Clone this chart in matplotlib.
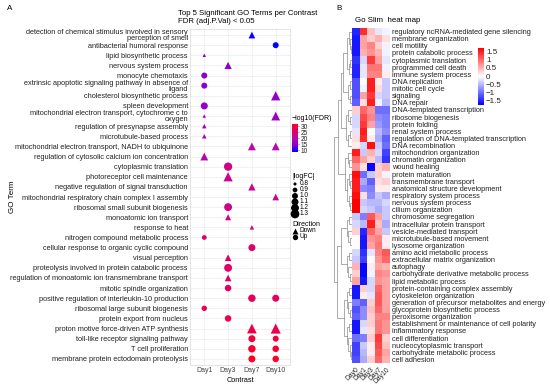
"""GO enrichment dot plot (A) and GO Slim clustered heat map (B)."""

import matplotlib

matplotlib.use("Agg")
import matplotlib.pyplot as plt
import numpy as np
from matplotlib.colors import LinearSegmentedColormap, Normalize

plt.rcParams["font.family"] = ["Liberation Sans", "DejaVu Sans"]

# ---------------------------------------------------------------- panel A data
DAYS_A = ["Day1", "Day3", "Day7", "Day10"]
TERMS_A = [
    "detection of chemical stimulus involved in sensory\nperception of smell",
    "antibacterial humoral response",
    "lipid biosynthetic process",
    "nervous system process",
    "monocyte chemotaxis",
    "extrinsic apoptotic signaling pathway in absence of\nligand",
    "cholesterol biosynthetic process",
    "spleen development",
    "mitochondrial electron transport, cytochrome c to\noxygen",
    "regulation of presynapse assembly",
    "microtubule-based process",
    "mitochondrial electron transport, NADH to ubiquinone",
    "regulation of cytosolic calcium ion concentration",
    "cytoplasmic translation",
    "photoreceptor cell maintenance",
    "negative regulation of signal transduction",
    "mitochondrial respiratory chain complex I assembly",
    "ribosomal small subunit biogenesis",
    "monoatomic ion transport",
    "response to heat",
    "nitrogen compound metabolic process",
    "cellular response to organic cyclic compound",
    "visual perception",
    "proteolysis involved in protein catabolic process",
    "regulation of monoatomic ion transmembrane transport",
    "mitotic spindle organization",
    "positive regulation of interleukin-10 production",
    "ribosomal large subunit biogenesis",
    "protein export from nucleus",
    "proton motive force-driven ATP synthesis",
    "toll-like receptor signaling pathway",
    "T cell proliferation",
    "membrane protein ectodomain proteolysis",
]
# one entry per point: term index, contrast, direction, -log10(FDR), |logFC|
PT_TERM = [0, 1, 2, 3, 4, 5, 6, 7, 8, 8, 9, 10, 11, 11, 12, 13, 14, 15, 16,
           17, 18, 19, 20, 21, 22, 23, 24, 25, 26, 26, 27, 28, 29, 29, 30, 30,
           31, 31, 32, 32]
PT_DAY = ["Day7", "Day10", "Day1", "Day3", "Day1", "Day1", "Day10", "Day1",
          "Day1", "Day10", "Day1", "Day1", "Day7", "Day10", "Day1", "Day3",
          "Day3", "Day7", "Day10", "Day3", "Day3", "Day7", "Day1", "Day7",
          "Day3", "Day3", "Day3", "Day3", "Day7", "Day10", "Day1", "Day3",
          "Day7", "Day10", "Day7", "Day10", "Day7", "Day10", "Day7", "Day10"]
PT_DIR = ["Down", "Up", "Down", "Down", "Up", "Up", "Down", "Up",
          "Down", "Down", "Down", "Down", "Down", "Down", "Down", "Up",
          "Down", "Down", "Down", "Up", "Down", "Down", "Up", "Up",
          "Down", "Up", "Down", "Up", "Up", "Up", "Up", "Up",
          "Down", "Down", "Up", "Up", "Up", "Up", "Up", "Up"]
PT_FDR = [8.8, 8.6, 14, 14.5, 14.5, 14.5, 15.5, 15.5,
          16.5, 16.5, 17.5, 17.5, 21, 20, 19, 23.5,
          22, 22, 22, 23.5, 23, 25, 25.5, 26,
          26, 26.5, 26.5, 27, 27.5, 27.5, 28, 28.5,
          29, 29, 30, 30, 31, 31, 32, 32]
PT_LFC = [1.0, 1.0, 0.8, 1.05, 1.0, 1.0, 1.25, 1.1,
          0.8, 1.2, 0.85, 0.85, 1.1, 1.1, 1.1, 1.25,
          1.25, 1.05, 1.0, 1.2, 0.95, 0.85, 0.9, 1.1,
          1.0, 1.2, 1.0, 1.05, 1.15, 1.1, 0.95, 1.05,
          1.3, 1.35, 1.1, 1.0, 1.15, 1.05, 1.1, 1.05]
FDR_TICKS = [10, 15, 20, 25, 30]
LFC_BREAKS = [0.8, 0.9, 1.0, 1.1, 1.2, 1.3]

# ---------------------------------------------------------------- panel B data
DAYS_B = ["Day0", "Day1", "Day3", "Day7", "Day10"]
TERMS_B = [
    "regulatory ncRNA-mediated gene silencing", "membrane organization",
    "cell motility", "protein catabolic process", "cytoplasmic translation",
    "programmed cell death", "immune system process", "DNA replication",
    "mitotic cell cycle", "signaling", "DNA repair",
    "DNA-templated transcription", "ribosome biogenesis", "protein folding",
    "renal system process", "regulation of DNA-templated transcription",
    "DNA recombination", "mitochondrion organization",
    "chromatin organization", "wound healing", "protein maturation",
    "transmembrane transport", "anatomical structure development",
    "respiratory system process", "nervous system process",
    "cilium organization", "chromosome segregation",
    "intracellular protein transport", "vesicle-mediated transport",
    "microtubule-based movement", "lysosome organization",
    "amino acid metabolic process", "extracellular matrix organization",
    "autophagy", "carbohydrate derivative metabolic process",
    "lipid metabolic process", "protein-containing complex assembly",
    "cytoskeleton organization",
    "generation of precursor metabolites and energy",
    "glycoprotein biosynthetic process", "peroxisome organization",
    "establishment or maintenance of cell polarity", "inflammatory response",
    "cell differentiation", "nucleocytoplasmic transport",
    "carbohydrate metabolic process", "cell adhesion",
]
ZSCORE = [
    [-1.5, 1.4, 0.4, -0.2, -0.1], [-1.6, 0.6, 0.3, 0.5, 0.2],
    [-1.6, 0.6, 0.8, 0.3, -0.1], [-1.6, 0.5, 0.7, 0.5, -0.1],
    [-1.4, -0.3, 1.3, 0.6, -0.2], [-1.5, -0.2, 0.9, 0.9, -0.1],
    [-1.5, -0.2, 0.8, 0.8, 0.1], [-1.2, 0.0, 1.5, 0.1, -0.4],
    [-1.2, -0.1, 1.5, 0.2, -0.4], [-1.2, 0.6, 1.3, -0.3, -0.4],
    [-1.1, 0.2, 1.5, -0.1, -0.5], [0.3, 1.0, 0.7, -1.0, -1.0],
    [-0.3, 1.2, 0.8, -0.8, -0.9], [-0.3, 1.3, 0.6, -0.7, -0.9],
    [-0.2, 1.5, 0.0, -0.5, -0.8], [0.2, 1.4, 0.1, -0.6, -1.1],
    [0.1, -0.3, 1.6, -0.4, -1.0], [1.5, -0.4, 0.5, -0.3, -1.3],
    [1.0, 0.6, 0.3, -0.5, -1.4], [0.7, 0.2, -1.7, 0.3, 0.5],
    [1.6, -1.0, -0.4, 0.3, -0.1], [1.5, -0.6, -1.1, 0.2, 0.3],
    [1.5, -0.8, -0.9, 0.1, 0.1], [1.6, 0.2, -0.8, -0.4, -0.6],
    [1.7, -0.4, -0.5, -0.5, -0.3], [1.7, -0.3, -0.4, -0.6, -0.4],
    [-0.4, -0.9, 1.1, 0.6, -0.4], [-0.3, -0.5, 1.5, 0.4, -0.6],
    [0.3, -1.5, 1.0, 0.6, -0.4], [0.0, -1.6, 0.7, 0.8, 0.1],
    [0.0, -1.6, 0.6, 0.9, 0.1], [-0.3, -1.4, -0.2, 0.8, 1.1],
    [-0.4, -1.3, 0.0, 0.7, 1.0], [0.5, -1.7, 0.1, 0.6, 0.5],
    [0.3, -1.7, -0.1, 0.8, 0.7], [0.6, -1.6, -0.3, 0.7, 0.6],
    [-1.6, 0.3, -0.3, 1.0, 0.6], [-1.6, 0.1, -0.2, 1.1, 0.6],
    [-0.9, -1.1, 0.3, 1.1, 0.6], [-1.2, -0.8, 0.4, 1.0, 0.6],
    [-1.1, -0.8, 0.3, 0.8, 0.8], [-1.6, -0.3, 0.3, 0.9, 0.7],
    [-1.6, -0.2, 0.2, 0.9, 0.7], [-1.0, -0.9, 0.3, 1.3, 0.3],
    [-1.3, -0.4, 0.1, 1.2, 0.4], [-1.3, -0.5, 0.1, 1.1, 0.6],
    [-1.2, -0.6, 0.3, 1.0, 0.5],
]
Z_TICKS = [-1.5, -1, -0.5, 0, 0.5, 1, 1.5]
# row dendrogram: (merge height, left, right), leaves are row indices
G1 = (5, (3, (1.5, 0, (1, 1, (0.6, 2, 3))), (1.5, (1, 4, 5), 6)),
      (2.5, (1.2, 7, 8), (1.2, 9, 10)))
G2 = (3.5, (2, 11, (1, 12, 13)), (2, (1, 14, 15), 16))
G3 = (4, (2.5, 17, (1.5, 18, 19)),
      (3, (1.5, 20, (1, 21, 22)), (1.8, 23, (1, 24, 25))))
G4 = (3, (1.5, 26, 27), (2, 28, (1, 29, 30)))
G5 = (3, (1.5, 31, 32), (2, 33, (1, 34, 35)))
G6 = (4.5, (3, (1.5, 36, 37), (2, 38, (1, 39, 40))),
      (3, (1.5, 41, 42), (2, 43, (1.2, 44, (0.8, 45, 46)))))
TREE = (10, (8, (6.5, G1, G2), G3), (8.5, (6, G4, G5), G6))

FS = 5.3
W, H = 550, 385


def fig_rect(x0, y0, x1, y1):
    """Pixel box (top-left origin) -> figure fraction rect."""
    return [x0 / W, 1 - y1 / H, (x1 - x0) / W, (y1 - y0) / H]


def lfc_size(v):
    return 5 + (np.asarray(v) - 0.8) / 0.5 * 34


fdr_cmap = LinearSegmentedColormap.from_list(
    "fdr", ["#0000FF", "#8B00D0", "#BA0AA6", "#E0006A", "#FF0022"])
fdr_norm = Normalize(8.5, 32)
z_cmap = LinearSegmentedColormap.from_list("bwr2", ["#0000FF", "#FFFFFF", "#FF0000"])
z_norm = Normalize(-1.75, 1.7)

fig = plt.figure(figsize=(W / 100, H / 100), dpi=100)

# ---------------------------------------------------------------- panel A
ax = fig.add_axes(fig_rect(190, 29, 290, 365))
xs = np.array([DAYS_A.index(d) + 1 for d in PT_DAY])
ys = np.array(PT_TERM)
dirs = np.array(PT_DIR)
fdr = np.array(PT_FDR)
lfc = np.array(PT_LFC)
for direction, marker, scale in [("Down", "^", 1.25), ("Up", "o", 1.0)]:
    m = dirs == direction
    ax.scatter(xs[m], ys[m], s=lfc_size(lfc[m]) * scale, c=fdr[m], cmap=fdr_cmap,
               norm=fdr_norm, marker=marker, linewidths=0, zorder=3)
ax.set_xlim(0.4, 4.6)
ax.set_ylim(len(TERMS_A) - 0.4, -0.6)
ax.set_xticks(range(1, 5), DAYS_A)
ax.set_yticks(range(len(TERMS_A)), TERMS_A)
ax.tick_params(length=0, labelsize=FS, pad=1.5, colors="#222222")
for lab in ax.get_yticklabels():
    lab.set_linespacing(0.8)
ax.tick_params(axis="x", labelsize=FS - 0.3, colors="#444444")
ax.grid(True, color="#EBEBEB", lw=0.5)
ax.set_axisbelow(True)
for sp in ax.spines.values():
    sp.set_color("#D9D9D9")
    sp.set_linewidth(0.5)
ax.set_xlabel("Contrast", fontsize=FS, labelpad=2)
ax.set_ylabel("GO Term", fontsize=FS + 0.5, labelpad=2)
ax.yaxis.set_label_coords(-1.74, 0.5)
fig.text(178 / W, 1 - 10 / H, "Top 5 Significant GO Terms per Contrast\nFDR (adj.P.Val) < 0.05",
         fontsize=FS + 0.3, va="top", ha="left", linespacing=1.2)

# colour bar for -log10(FDR)
cax = fig.add_axes(fig_rect(292, 124, 298, 152))
cb = fig.colorbar(plt.cm.ScalarMappable(norm=fdr_norm, cmap=fdr_cmap), cax=cax,
                  ticks=FDR_TICKS)
cb.outline.set_visible(False)
cax.tick_params(length=1, width=0.4, labelsize=FS - 0.6, pad=0.8, colors="#222222")
fig.text(292 / W, 1 - 118 / H, "\u2212log10(FDR)", fontsize=FS - 0.3, va="center")

# size and shape legends
lax = fig.add_axes(fig_rect(290, 170, 335, 245))
lax.set_xlim(290, 335)
lax.set_ylim(245, 170)
lax.axis("off")
lax.text(292, 177, "|logFC|", fontsize=FS - 0.3, va="center")
ly = np.linspace(184, 214, len(LFC_BREAKS))
lax.scatter(np.full(len(LFC_BREAKS), 295), ly, s=lfc_size(LFC_BREAKS), c="black",
            linewidths=0, clip_on=False)
for yy, v in zip(ly, LFC_BREAKS):
    lax.text(300, yy, f"{v:.1f}", fontsize=FS - 0.6, va="center")
lax.text(292, 225, "Direction", fontsize=FS - 0.3, va="center")
lax.scatter([295], [231], s=lfc_size(1.0), marker="^", c="black", linewidths=0)
lax.scatter([295], [237], s=lfc_size(1.0) * 0.8, marker="o", c="black", linewidths=0)
lax.text(299, 231, "Down", fontsize=FS - 0.6, va="center")
lax.text(299, 237, "Up", fontsize=FS - 0.6, va="center")

# ---------------------------------------------------------------- panel B
hax = fig.add_axes(fig_rect(352, 28, 390, 363))
hax.imshow(np.array(ZSCORE), cmap=z_cmap, norm=z_norm, aspect="auto",
           interpolation="nearest")
hax.set_yticks(range(len(TERMS_B)), TERMS_B)
hax.yaxis.tick_right()
hax.set_xticks(range(len(DAYS_B)), DAYS_B, rotation=45, ha="right",
               va="top", rotation_mode="anchor")
hax.tick_params(length=0, labelsize=FS, pad=1.2, colors="#222222")
hax.tick_params(axis="x", labelsize=FS - 0.4, pad=2)
for sp in hax.spines.values():
    sp.set_visible(False)

dax = fig.add_axes(fig_rect(334, 28, 352, 363))
dax.set_ylim(len(TERMS_B) - 0.5, -0.5)
dax.set_xlim(TREE[0] * 1.02, 0)
dax.axis("off")


def draw_node(node):
    """Draw a dendrogram node; return (y centre, height)."""
    if isinstance(node, int):
        return node, 0.0
    h, left, right = node
    y1, h1 = draw_node(left)
    y2, h2 = draw_node(right)
    kw = dict(color="#8C8C8C", lw=0.5)
    dax.plot([h1, h, h, h2], [y1, y1, y2, y2], **kw)
    return (y1 + y2) / 2, h


draw_node(TREE)

zax = fig.add_axes(fig_rect(478, 48, 484, 105))
zb = fig.colorbar(plt.cm.ScalarMappable(norm=z_norm, cmap=z_cmap), cax=zax,
                  ticks=Z_TICKS)
zb.outline.set_visible(False)
zb.ax.set_yticklabels([f"{t:g}".replace("-", "\u2212") for t in Z_TICKS])
zax.tick_params(length=0, labelsize=FS + 0.5, pad=1.5, colors="#222222")

fig.text(355 / W, 1 - 20 / H, "Go Slim  heat map", fontsize=FS + 0.4, va="center")
fig.text(7 / W, 1 - 9 / H, "A", fontsize=FS + 0.5, va="center")
fig.text(336 / W, 1 - 9 / H, "B", fontsize=FS + 0.5, va="center")

fig.savefig("out.png", dpi=100)
